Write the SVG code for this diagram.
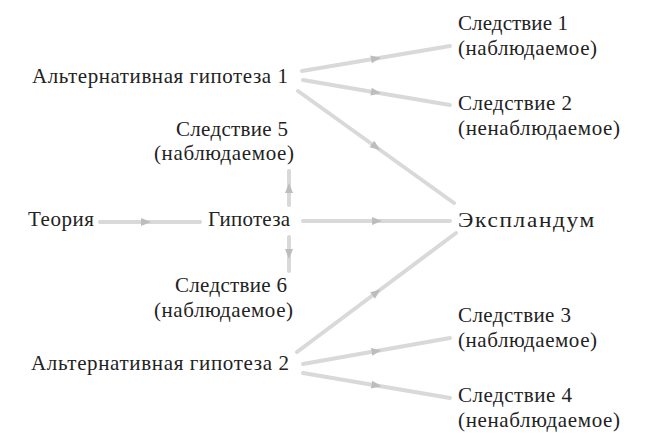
<svg xmlns="http://www.w3.org/2000/svg" width="650" height="445" viewBox="0 0 650 445">
<style>
text{font-family:"Liberation Serif","Times New Roman",serif;font-size:21px;fill:#222}
.c{fill:none;stroke:#d9d9d9;stroke-width:4;stroke-linecap:round;marker-mid:url(#ah)}
</style>
<defs>
<marker id="ah" markerUnits="userSpaceOnUse" markerWidth="12" markerHeight="10" refX="5" refY="4" orient="auto" overflow="visible">
<path d="M0,0 L10,4 L0,8 Z" fill="#bdbdbd"/>
</marker>
</defs>
<rect width="650" height="445" fill="#fff"/>
<g id="connectors">
<path class="c" d="M302,71 L376,58.5 L450,46"/>
<path class="c" d="M303,80 L376,92.5 L450,105"/>
<path class="c" d="M298,91 L376,147 L454,203"/>
<path class="c" d="M100,222 L146,222 L200,222"/>
<path class="c" d="M303,221 L377,221 L450,221"/>
<path class="c" d="M289,205 L289,188 L289,171"/>
<path class="c" d="M289,237 L289,254 L289,271"/>
<path class="c" d="M297,352 L376.5,292.5 L456,233"/>
<path class="c" d="M303,364 L376.5,351 L450,338"/>
<path class="c" d="M303,373 L376.5,385.5 L450,398"/>
</g>
<g id="alt1"><text x="32" y="83" textLength="256" lengthAdjust="spacing">Альтернативная гипотеза 1</text></g>
<g id="c5"><text x="176" y="136" textLength="112" lengthAdjust="spacing">Следствие 5</text><text x="154" y="160" textLength="140" lengthAdjust="spacing">(наблюдаемое)</text></g>
<g id="theory"><text x="28" y="226" textLength="66" lengthAdjust="spacing">Теория</text></g>
<g id="hyp"><text x="208" y="226" textLength="82" lengthAdjust="spacing">Гипотеза</text></g>
<g id="c6"><text x="175" y="292" textLength="112" lengthAdjust="spacing">Следствие 6</text><text x="154" y="317" textLength="139" lengthAdjust="spacing">(наблюдаемое)</text></g>
<g id="alt2"><text x="31" y="370" textLength="258" lengthAdjust="spacing">Альтернативная гипотеза 2</text></g>
<g id="c1"><text x="458" y="30" textLength="110" lengthAdjust="spacing">Следствие 1</text><text x="458" y="55" textLength="139" lengthAdjust="spacing">(наблюдаемое)</text></g>
<g id="c2"><text x="458" y="110" textLength="114" lengthAdjust="spacing">Следствие 2</text><text x="458" y="135" textLength="162" lengthAdjust="spacing">(ненаблюдаемое)</text></g>
<g id="expl"><text x="458" y="227" textLength="138" lengthAdjust="spacingAndGlyphs" style="letter-spacing:1.5px">Экспландум</text></g>
<g id="c3"><text x="458" y="322" textLength="113" lengthAdjust="spacing">Следствие 3</text><text x="458" y="347" textLength="139" lengthAdjust="spacing">(наблюдаемое)</text></g>
<g id="c4"><text x="458" y="402" textLength="114" lengthAdjust="spacing">Следствие 4</text><text x="458" y="427" textLength="162" lengthAdjust="spacing">(ненаблюдаемое)</text></g>
</svg>
